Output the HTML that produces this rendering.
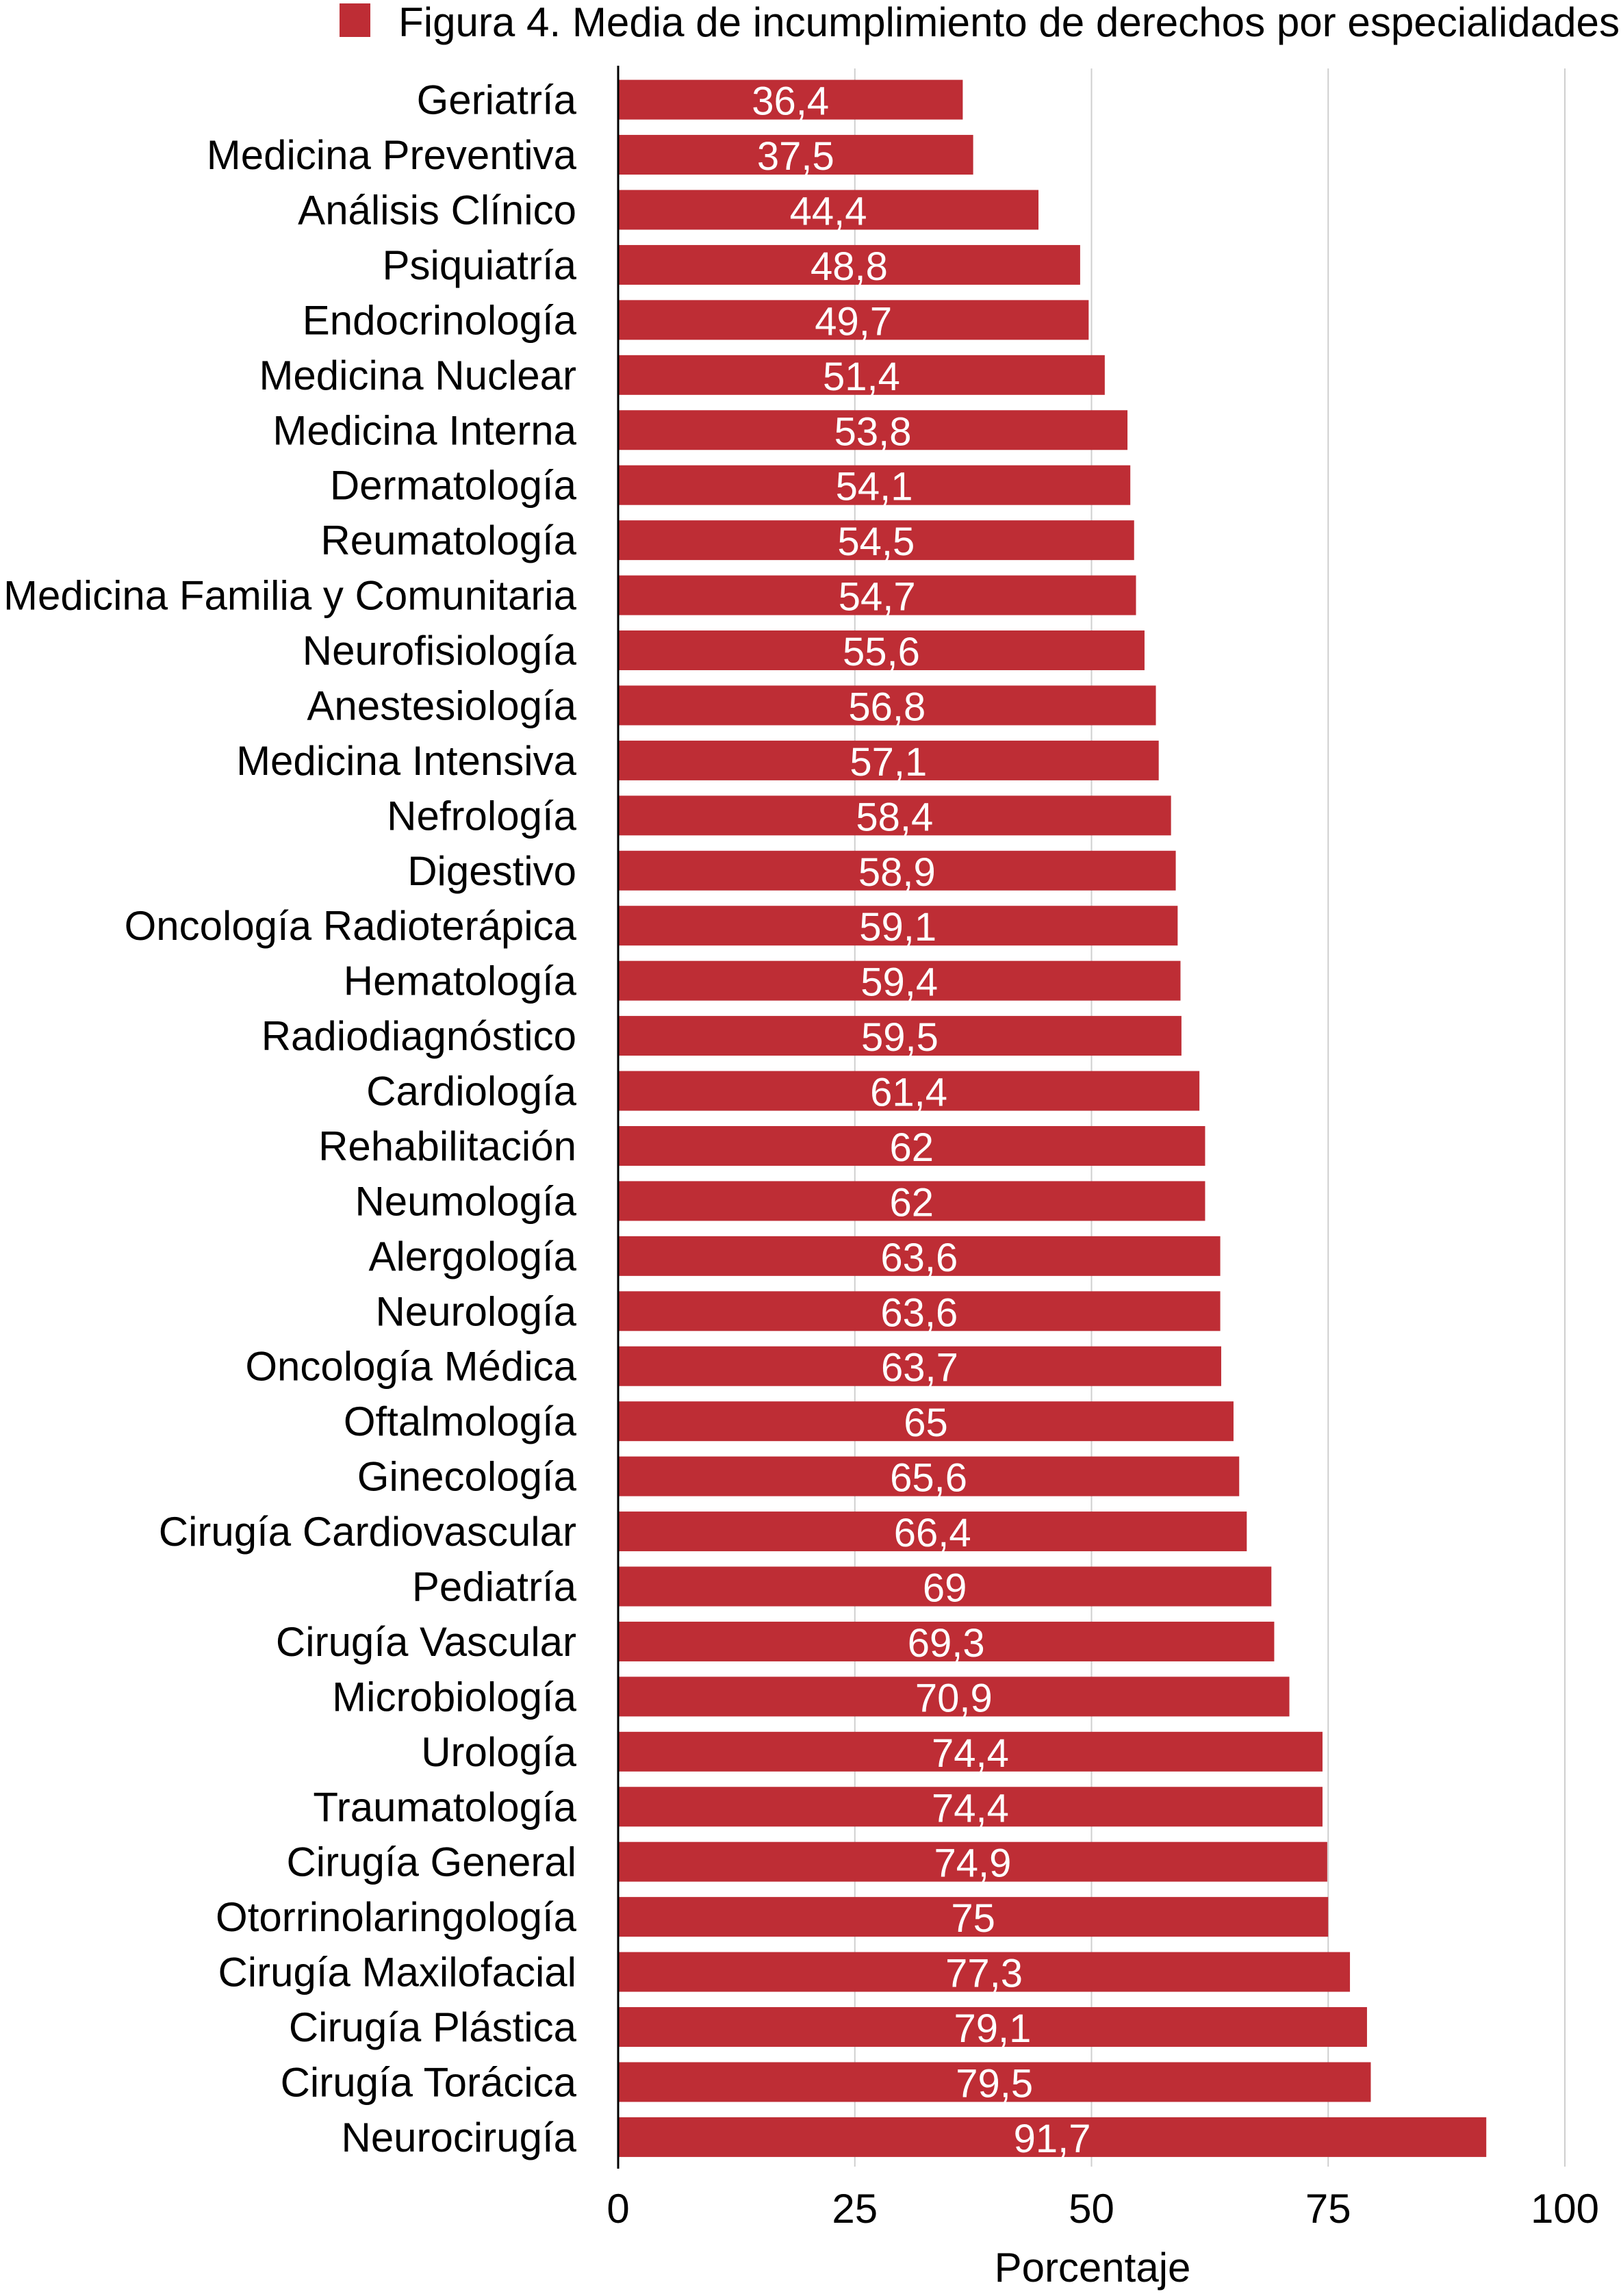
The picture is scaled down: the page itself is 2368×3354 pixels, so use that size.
<!DOCTYPE html>
<html><head><meta charset="utf-8">
<style>
html,body{margin:0;padding:0;background:#fff;}
svg{display:block;font-family:"Liberation Sans",Arial,sans-serif;}
</style></head>
<body>
<svg id="chart" width="2368" height="3354" viewBox="0 0 2368 3354" xmlns="http://www.w3.org/2000/svg">
  <g>
    <rect x="496" y="5" width="45" height="49" fill="#be2d35"/>
    <text x="582" y="53" font-size="60" textLength="1784" lengthAdjust="spacingAndGlyphs" fill="#000">Figura 4. Media de incumplimiento de derechos por especialidades</text>
  </g>
  <g id="grid"></g>
  <g id="bars"></g>
  <g id="ylabels"></g>
  <g id="xlabels"></g>
  <line x1="903" y1="96" x2="903" y2="3168" stroke="#000" stroke-width="3"/>
  <text x="1596" y="3333" font-size="60" text-anchor="middle" fill="#000">Porcentaje</text>
</svg>
<script>
const categories = ["Geriatría","Medicina Preventiva","Análisis Clínico","Psiquiatría","Endocrinología","Medicina Nuclear","Medicina Interna","Dermatología","Reumatología","Medicina Familia y Comunitaria","Neurofisiología","Anestesiología","Medicina Intensiva","Nefrología","Digestivo","Oncología Radioterápica","Hematología","Radiodiagnóstico","Cardiología","Rehabilitación","Neumología","Alergología","Neurología","Oncología Médica","Oftalmología","Ginecología","Cirugía Cardiovascular","Pediatría","Cirugía Vascular","Microbiología","Urología","Traumatología","Cirugía General","Otorrinolaringología","Cirugía Maxilofacial","Cirugía Plástica","Cirugía Torácica","Neurocirugía"];
const values = [36.4,37.5,44.4,48.8,49.7,51.4,53.8,54.1,54.5,54.7,55.6,56.8,57.1,58.4,58.9,59.1,59.4,59.5,61.4,62,62,63.6,63.6,63.7,65,65.6,66.4,69,69.3,70.9,74.4,74.4,74.9,75,77.3,79.1,79.5,91.7];
const xTicks = [0,25,50,75,100];

const NS = "http://www.w3.org/2000/svg";
const X0 = 903, X1 = 2286, XMAX = 100;
const xScale = v => X0 + (v / XMAX) * (X1 - X0);
const TOP = 105.4, STEP = 80.44, BAR_H = 58;
const yCenter = i => TOP + STEP * (i + 0.5);
function mk(tag, attrs, parent) {
  const el = document.createElementNS(NS, tag);
  for (const k in attrs) el.setAttribute(k, attrs[k]);
  parent.appendChild(el);
  return el;
}
const grid = document.getElementById("grid");
const bars = document.getElementById("bars");
const ylabels = document.getElementById("ylabels");
const xlabels = document.getElementById("xlabels");

xTicks.forEach(t => {
  if (t > 0) {
    const gl = mk("line", {x1: xScale(t), x2: xScale(t), y1: 100, y2: 3165, stroke: "#cfcfcf", "stroke-width": 2}, grid);
    
    
  }
  const tl = mk("text", {x: xScale(t), y: 3247, "font-size": 60, "text-anchor": "middle", fill: "#000"}, xlabels);
  tl.textContent = String(t);
  
  
});

categories.forEach((c, i) => {
  const v = values[i];
  const cy = yCenter(i);
  const r = mk("rect", {x: X0, y: cy - BAR_H / 2, width: xScale(v) - X0, height: BAR_H, fill: "#be2d35"}, bars);
  
  
  const vl = mk("text", {x: (X0 + xScale(v)) / 2, y: cy + 22, "font-size": 58, "text-anchor": "middle", fill: "#fff"}, bars);
  vl.textContent = String(v).replace(".", ",");
  
  
  const yl = mk("text", {x: 842, y: cy + 21, "font-size": 60, "text-anchor": "end", fill: "#000"}, ylabels);
  yl.textContent = c;
  
  
});
</script>
</body></html>
